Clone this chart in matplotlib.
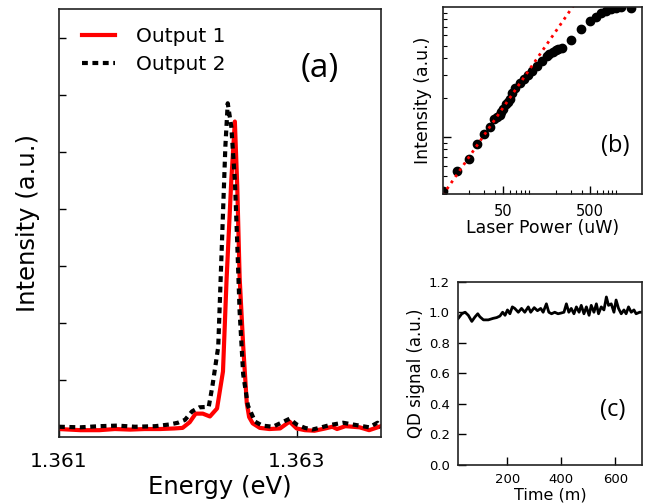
import matplotlib
matplotlib.use("Agg")
import matplotlib.pyplot as plt
from matplotlib.ticker import FixedLocator, NullFormatter, NullLocator

# --- (a) widmo: energia [eV] i intensywnosc [a.u.]
energy_out1 = [1.36100, 1.36118, 1.36134, 1.36147, 1.36160, 1.36172, 1.36185, 1.36197, 1.36204, 1.36210,
               1.36215, 1.36221, 1.36227, 1.36233, 1.36238, 1.36241, 1.36245, 1.36248, 1.36250, 1.36252,
               1.36255, 1.36258, 1.36260, 1.36263, 1.36269, 1.36277, 1.36286, 1.36294, 1.36300, 1.36307,
               1.36315, 1.36324, 1.36330, 1.36334, 1.36341, 1.36353, 1.36361, 1.36371]
intensity_out1 = [0.14, 0.12, 0.12, 0.14, 0.13, 0.14, 0.14, 0.15, 0.16, 0.26,
                  0.41, 0.41, 0.36, 0.50, 1.15, 2.75, 4.50, 5.53, 4.40, 2.80,
                  1.60, 0.60, 0.35, 0.24, 0.16, 0.14, 0.15, 0.27, 0.15, 0.12,
                  0.11, 0.15, 0.18, 0.14, 0.19, 0.17, 0.12, 0.19]

energy_out2 = [1.36100, 1.36118, 1.36134, 1.36149, 1.36164, 1.36181, 1.36193, 1.36200, 1.36206, 1.36212,
               1.36218, 1.36226, 1.36229, 1.36234, 1.36236, 1.36238, 1.36240, 1.36242, 1.36245, 1.36248,
               1.36250, 1.36252, 1.36255, 1.36259, 1.36265, 1.36271, 1.36280, 1.36287, 1.36294, 1.36300,
               1.36307, 1.36313, 1.36319, 1.36328, 1.36339, 1.36350, 1.36361, 1.36368, 1.36371]
intensity_out2 = [0.18, 0.17, 0.19, 0.20, 0.18, 0.19, 0.22, 0.25, 0.30, 0.45,
                  0.52, 0.53, 0.88, 1.58, 2.75, 3.92, 5.09, 5.85, 5.44, 4.50,
                  3.40, 2.20, 1.10, 0.55, 0.27, 0.20, 0.18, 0.25, 0.32, 0.22,
                  0.16, 0.13, 0.16, 0.21, 0.25, 0.21, 0.17, 0.25, 0.17]

energy_ticks = [1.361, 1.363]
energy_ticklabels = ["1.361", "1.363"]

# --- (b) zaleznosc od mocy lasera
power = [10.2, 14.8, 20.0, 25.0, 29.7, 34.9, 39.4, 42.0, 45.3, 47.0, 50.0, 53.7, 56.0, 59.0, 63.0,
         68.6, 78.3, 87.7, 97.5, 108, 122, 139, 158, 170, 188, 205, 215, 235, 298, 391, 496,
         581, 676, 771, 879, 1003, 1145, 1490]
power_intensity = [0.384, 0.545, 0.673, 0.879, 1.05, 1.19, 1.37, 1.42, 1.47, 1.55, 1.62, 1.78, 1.85, 1.95, 2.15,
                   2.36, 2.57, 2.79, 2.98, 3.20, 3.52, 3.82, 4.16, 4.30, 4.46, 4.60, 4.70, 4.84, 5.54, 6.74, 7.76,
                   8.38, 8.90, 9.27, 9.55, 9.82, 10.0, 9.72]
fit_power = [10, 330]
fit_intensity = [0.356, 10.4]
power_ticks = [50, 500]
power_ticklabels = ["50", "500"]
power_minor = [20, 30, 40, 60, 70, 80, 90, 100, 200, 300, 400, 600, 700, 800, 900, 1000]

# --- (c) stabilnosc sygnalu QD w czasie
time_min = [19, 32, 44, 56, 69, 81, 91, 99, 112, 130,
            148, 161, 173, 183, 192, 201, 210, 219, 228, 241,
            253, 265, 278, 287, 300, 312, 324, 333, 345, 354,
            364, 376, 388, 400, 410, 419, 428, 437, 447, 456,
            466, 474, 484, 493, 503, 511, 521, 530, 538, 548,
            558, 567, 575, 585, 595, 603, 612, 622, 632, 640,
            649, 659, 669, 677, 690, 700]
qd_signal = [0.96, 0.99, 1.00, 0.98, 0.94, 0.97, 0.99, 0.97, 0.95, 0.95,
             0.96, 0.965, 0.975, 1.00, 0.98, 1.015, 0.99, 1.035, 1.025, 1.00,
             1.025, 1.00, 1.035, 1.00, 1.03, 1.01, 1.025, 1.00, 1.055, 1.00,
             0.99, 1.00, 0.99, 0.995, 1.00, 1.055, 1.00, 1.025, 0.99, 1.035,
             1.00, 1.045, 0.99, 1.035, 0.98, 1.045, 1.00, 1.055, 0.99, 1.035,
             1.015, 1.10, 1.045, 1.055, 1.00, 1.08, 1.025, 0.99, 1.015, 0.99,
             1.035, 1.00, 1.015, 0.99, 1.00, 1.00]
signal_ticks = [0.0, 0.2, 0.4, 0.6, 0.8, 1.0, 1.2]
time_ticks = [200, 400, 600]

label_font = "Open Sans"

fig = plt.figure(figsize=(6.6, 5.04), dpi=100)

# Panel (a)
ax_a = fig.add_axes([0.0894, 0.1329, 0.4879, 0.849])
ax_a.plot(energy_out1, intensity_out1, color="#ff0000", linewidth=3, label="Output 1")
ax_a.plot(energy_out2, intensity_out2, color="black", linewidth=3, linestyle=(0, (1.4, 1.1)),
          label="Output 2")
ax_a.set_xlim(1.361, 1.36371)
ax_a.set_ylim(0, 7.5)
ax_a.xaxis.set_major_locator(FixedLocator(energy_ticks))
ax_a.set_xticklabels(energy_ticklabels)
ax_a.yaxis.set_major_locator(FixedLocator([1, 2, 3, 4, 5, 6, 7]))
ax_a.yaxis.set_major_formatter(NullFormatter())
ax_a.tick_params(axis="both", direction="in", length=5, width=1, labelsize=14.5, pad=11,
                 top=False, right=False)
ax_a.set_xlabel("Energy (eV)", fontsize=17.5, labelpad=3)
ax_a.set_ylabel("Intensity (a.u.)", fontsize=17.5, labelpad=3)
ax_a.legend(loc="upper left", frameon=False, fontsize=14.5, handlelength=1.6,
            handletextpad=1.05, labelspacing=0.45, borderaxespad=0.6,
            bbox_to_anchor=(0.01, 1.005))
ax_a.text(0.81, 0.862, "(a)", transform=ax_a.transAxes, fontsize=24, family=label_font,
          ha="center", va="center")

# Panel (b)
ax_b = fig.add_axes([0.6708, 0.615, 0.3023, 0.372])
ax_b.plot(power, power_intensity, "o", color="black", markersize=6)
ax_b.plot(fit_power, fit_intensity, color="#ff0000", linewidth=2, linestyle=":")
ax_b.set_xscale("log")
ax_b.set_yscale("log")
ax_b.set_xlim(10, 2000)
ax_b.set_ylim(0.363, 10.0)
ax_b.xaxis.set_major_locator(FixedLocator(power_ticks))
ax_b.set_xticklabels(power_ticklabels)
ax_b.xaxis.set_minor_locator(FixedLocator(power_minor))
ax_b.xaxis.set_minor_formatter(NullFormatter())
ax_b.yaxis.set_major_locator(FixedLocator([1]))
ax_b.yaxis.set_minor_locator(FixedLocator([0.4, 0.5, 0.6, 0.7, 0.8, 0.9, 2, 3, 4, 5, 6, 7, 8, 9]))
ax_b.yaxis.set_major_formatter(NullFormatter())
ax_b.yaxis.set_minor_formatter(NullFormatter())
ax_b.tick_params(axis="both", which="major", direction="in", length=6, width=1, labelsize=10.5,
                 pad=7, top=False, right=False)
ax_b.tick_params(axis="both", which="minor", direction="in", length=3, width=0.8,
                 top=False, right=False)
ax_b.set_xlabel("Laser Power (uW)", fontsize=12.5, labelpad=0)
ax_b.set_ylabel("Intensity (a.u.)", fontsize=12.5, labelpad=1)
ax_b.text(0.865, 0.256, "(b)", transform=ax_b.transAxes, fontsize=17, family=label_font,
          ha="center", va="center")

# Panel (c)
ax_c = fig.add_axes([0.6944, 0.0774, 0.2788, 0.3637])
ax_c.plot(time_min, qd_signal, color="black", linewidth=2)
ax_c.set_xlim(19, 700)
ax_c.set_ylim(0, 1.2)
ax_c.xaxis.set_major_locator(FixedLocator(time_ticks))
ax_c.yaxis.set_major_locator(FixedLocator(signal_ticks))
ax_c.yaxis.set_minor_locator(NullLocator())
ax_c.tick_params(axis="both", direction="in", length=6, width=1, labelsize=9.5, pad=6,
                 top=False, right=False)
ax_c.set_xlabel("Time (m)", fontsize=11.5, labelpad=1)
ax_c.set_ylabel("QD signal (a.u.)", fontsize=12, labelpad=3)
ax_c.text(0.84, 0.30, "(c)", transform=ax_c.transAxes, fontsize=17, family=label_font,
          ha="center", va="center")

for ax in (ax_a, ax_b, ax_c):
    for spine in ax.spines.values():
        spine.set_linewidth(1.2)
        spine.set_color("#222222")

fig.savefig("out.png", dpi=100)
